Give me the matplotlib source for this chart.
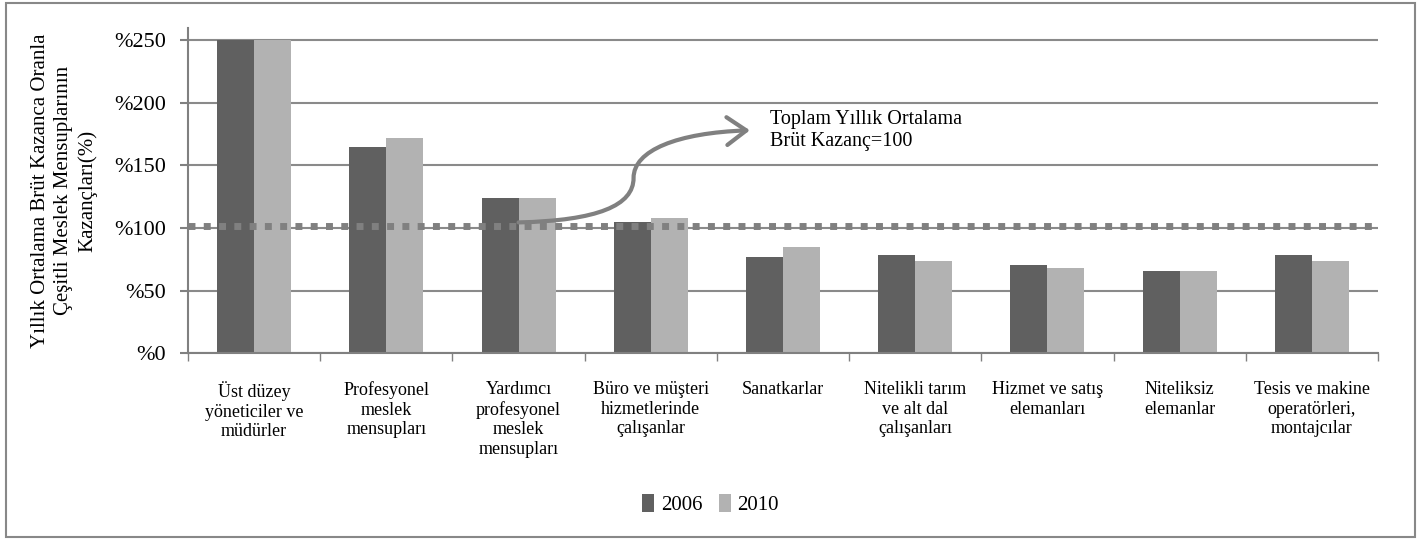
import matplotlib
matplotlib.use('Agg')
from matplotlib import pyplot as plt
from matplotlib.path import Path
from matplotlib.patches import FancyArrowPatch, Rectangle
import numpy as np

kategoriler = ["Üst düzey\nyöneticiler ve\nmüdürler",
               "Profesyonel\nmeslek\nmensupları",
               "Yardımcı\nprofesyonel\nmeslek\nmensupları",
               "Büro ve müşteri\nhizmetlerinde\nçalışanlar",
               "Sanatkarlar",
               "Nitelikli tarım\nve alt dal\nçalışanları",
               "Hizmet ve satış\nelemanları",
               "Niteliksiz\nelemanlar",
               "Tesis ve makine\noperatörleri,\nmontajcılar"]
y2006 = [250, 165, 124, 104.5, 77, 78.5, 70.5, 65.5, 78.5]
y2010 = [250, 172, 124, 108, 85, 73.5, 68.5, 65.5, 73.5]
ort = 102
yticks = [0, 50, 100, 150, 200, 250]

plt.rcParams['font.family'] = ['Liberation Serif', 'DejaVu Serif']

fig = plt.figure(figsize=(14.21, 5.4), dpi=100)
ax = fig.add_axes([0.1323, 0.3456, 0.8374, 0.6034])

x = np.arange(len(kategoriler))
w = 0.28
ax.bar(x - w/2, y2006, w, color='#606060', label='2006', zorder=2)
ax.bar(x + w/2, y2010, w, color='#b2b2b2', label='2010', zorder=2)

ax.axhline(ort, color='#808080', lw=5, dashes=(1, 1.2), dash_capstyle='butt', zorder=3)

ax.set_xlim(-0.5, len(kategoriler) - 0.5)
ax.set_ylim(0, 260)
ax.set_yticks(yticks)
ax.set_yticklabels(['%' + str(t) for t in yticks], fontsize=16)
ax.set_xticks(x)
ax.set_xticklabels(kategoriler, fontsize=13, va='top', linespacing=1.2)
ax.set_xticks(np.arange(len(kategoriler) + 1) - 0.5, minor=True)
ax.tick_params(axis='x', which='major', length=0, pad=20)
ax.tick_params(axis='x', which='minor', length=6, color='#808080', width=1)
ax.tick_params(axis='y', length=6, color='#808080', width=1.5, pad=10)
ax.grid(axis='y', color='#8a8a8a', lw=1.5, zorder=0)
for s in ['top', 'right']:
    ax.spines[s].set_visible(False)
ax.spines['left'].set_color('#808080')
ax.spines['left'].set_linewidth(1.5)
ax.spines['bottom'].set_color('#808080')
ax.spines['bottom'].set_linewidth(1.5)

ax.set_ylabel("Yıllık Ortalama Brüt Kazanca Oranla\nÇeşitli Meslek Mensuplarının\nKazançları(%)",
              fontsize=15, linespacing=1.3, labelpad=12)

# egri ok
verts = [(2.0, 104.5), (2.6, 106), (2.87, 118), (2.87, 140),
         (2.87, 162), (3.2, 176), (3.75, 178)]
codes = [Path.MOVETO, Path.CURVE4, Path.CURVE4, Path.CURVE4,
         Path.CURVE4, Path.CURVE4, Path.CURVE4]
ok = FancyArrowPatch(path=Path(verts, codes), arrowstyle='->,head_length=0.7,head_width=0.5',
                     color='#808080', lw=3, mutation_scale=20, zorder=4)
ax.add_patch(ok)
ax.text(3.9, 178, "Toplam Yıllık Ortalama\nBrüt Kazanç=100", fontsize=14.5,
        va='center', ha='left', linespacing=1.25)

leg = fig.legend(loc='center', bbox_to_anchor=(0.5, 0.065), ncol=2, frameon=False,
                 fontsize=15, handlelength=0.6, handleheight=0.9, handletextpad=0.3,
                 columnspacing=0.8)

fig.patches.append(Rectangle((0.004, 0.006), 0.992, 0.988, transform=fig.transFigure,
                             fill=False, edgecolor='#888888', lw=1.5))

plt.savefig('out.png', dpi=100)
